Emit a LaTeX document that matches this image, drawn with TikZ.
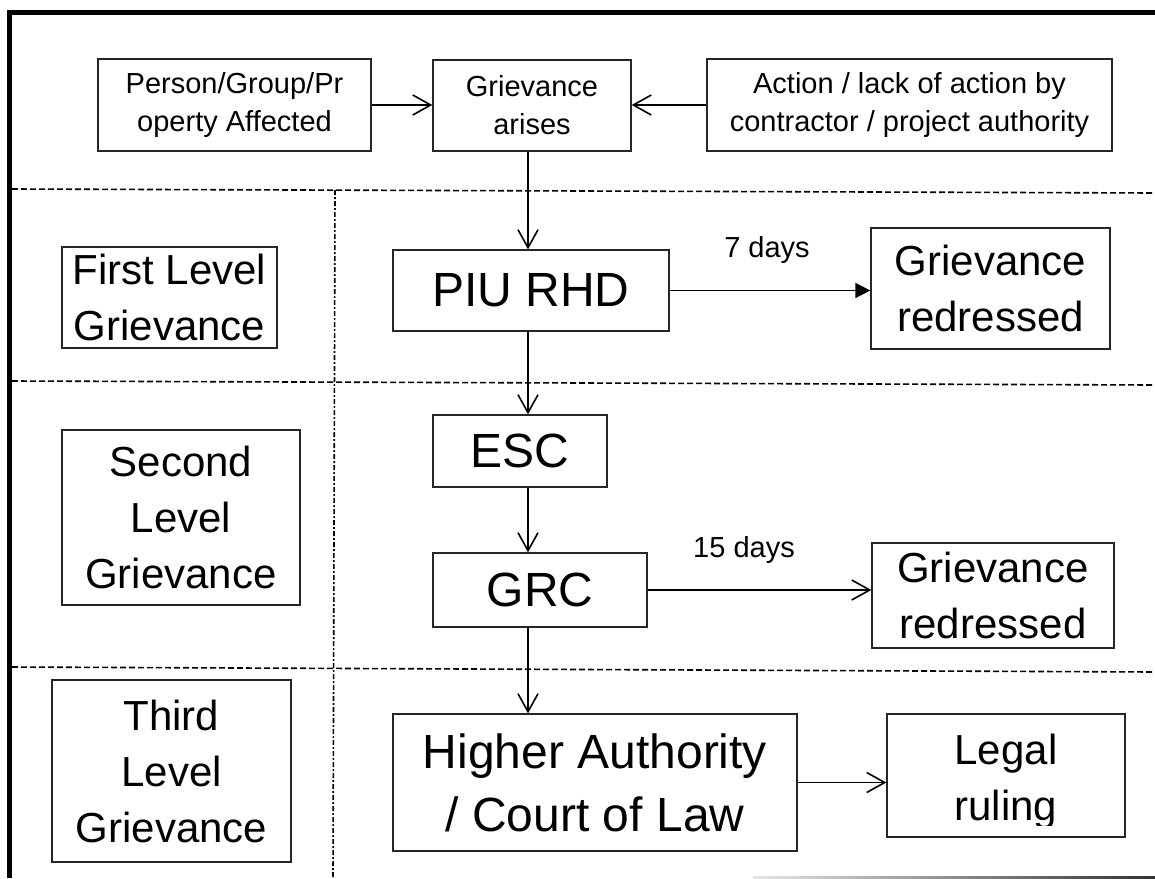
\documentclass[tikz,border=0pt]{standalone}
\usepackage{fontspec}
\setmainfont{Liberation Sans}
\usetikzlibrary{arrows.meta,calc}
\begin{document}
\begin{tikzpicture}[x=1pt,y=-1pt,
  box/.style={draw=black!85, line width=1.3pt, inner sep=0pt, align=center},
  small/.style={font=\fontsize{29}{38}\selectfont},
  mid/.style={font=\fontsize{42}{56}\selectfont},
  big/.style={font=\fontsize{48}{63}\selectfont},
  flow/.style={line width=1.6pt, -{Straight Barb[length=18pt,width=20pt,line width=1.6pt]}},
  flowfill/.style={line width=1.6pt, -{Triangle[length=15pt,width=15pt]}},
  lane/.style={line width=1.6pt, dash pattern=on 6pt off 3pt},
  lanev/.style={line width=1.6pt, dash pattern=on 5pt off 2pt on 2pt off 2pt},
  frame/.style={line width=5pt, line join=miter}
]
\useasboundingbox (0,0) rectangle (1155,878);

% outer frame
\draw[frame] (9.5,878) -- (9.5,12.5) -- (1155,12.5);
\shade[left color=black!10, right color=black!80] (753,876.5) rectangle (1155,878);

% lane separators
\draw[lane] (12,189) -- (1155,193);
\draw[lane] (12,381) -- (1155,385);
\draw[lane] (12,667) -- (1155,672);
\draw[lanev] (335,190) -- (333,878);

% top row
\node[box, small, minimum width=273, minimum height=92] (b1) at (234.5,105) {Person/Group/Pr\\operty Affected};
\node[box, small, minimum width=198, minimum height=91] (ga) at (532,105.5) {Grievance\\arises};
\node[box, small, minimum width=405, minimum height=92] (ac) at (909.5,105) {Action / lack of action by\\contractor / project authority};

% level labels
\node[box, mid, minimum width=215, minimum height=101] (lvl1) at (169.5,297.5) {First Level\\Grievance};
\node[box, mid, minimum width=238, minimum height=175] (lvl2) at (181,517.5) {Second\\Level\\Grievance};
\node[box, mid, minimum width=239, minimum height=182] (lvl3) at (171.5,771) {Third\\Level\\Grievance};

% main column
\node[box, big, minimum width=276, minimum height=81] (piu) at (531,290.5) {PIU RHD};
\node[box, big, minimum width=174, minimum height=72] (esc) at (520,451) {ESC};
\node[box, big, minimum width=214, minimum height=74] (grc) at (540,590) {GRC};
\node[box, big, minimum width=404, minimum height=137] (ha) at (595,782.5) {Higher Authority\\/ Court of Law};

% outcomes
\node[box, mid, minimum width=239, minimum height=121] (gr1) at (990.5,288.5) {Grievance\\redressed};
\node[box, mid, minimum width=242, minimum height=105] (gr2) at (993,595.5) {Grievance\\redressed};
\node[box, minimum width=238, minimum height=123] (lr) at (1006,775.5) {};
\begin{scope}
  \clip (887,714) rectangle (1125,825);
  \node[mid, align=center, inner sep=0pt] (lrtext) at (1006,782) {Legal\\ruling};
\end{scope}

% time labels
\node[small, anchor=base, inner sep=0pt] (d7) at (767,257) {7 days};
\node[small, anchor=base, inner sep=0pt] (d15) at (744,557) {15 days};

% connectors
\coordinate (col) at (528,0);
\draw[flow] (b1.east) -- (b1.east -| ga.west);
\draw[flow] (ac.west) -- (ac.west -| ga.east);
\draw[flow] (ga.south -| col) -- (piu.north -| col);
\draw[flowfill] (piu.east) -- (piu.east -| gr1.west);
\draw[flow] (piu.south -| col) -- (esc.north -| col);
\draw[flow] (esc.south -| col) -- (grc.north -| col);
\draw[flow] (grc.east) -- (grc.east -| gr2.west);
\draw[flow] (grc.south -| col) -- (ha.north -| col);
\draw[flow] (ha.east) -- (ha.east -| lr.west);
\end{tikzpicture}
\end{document}
